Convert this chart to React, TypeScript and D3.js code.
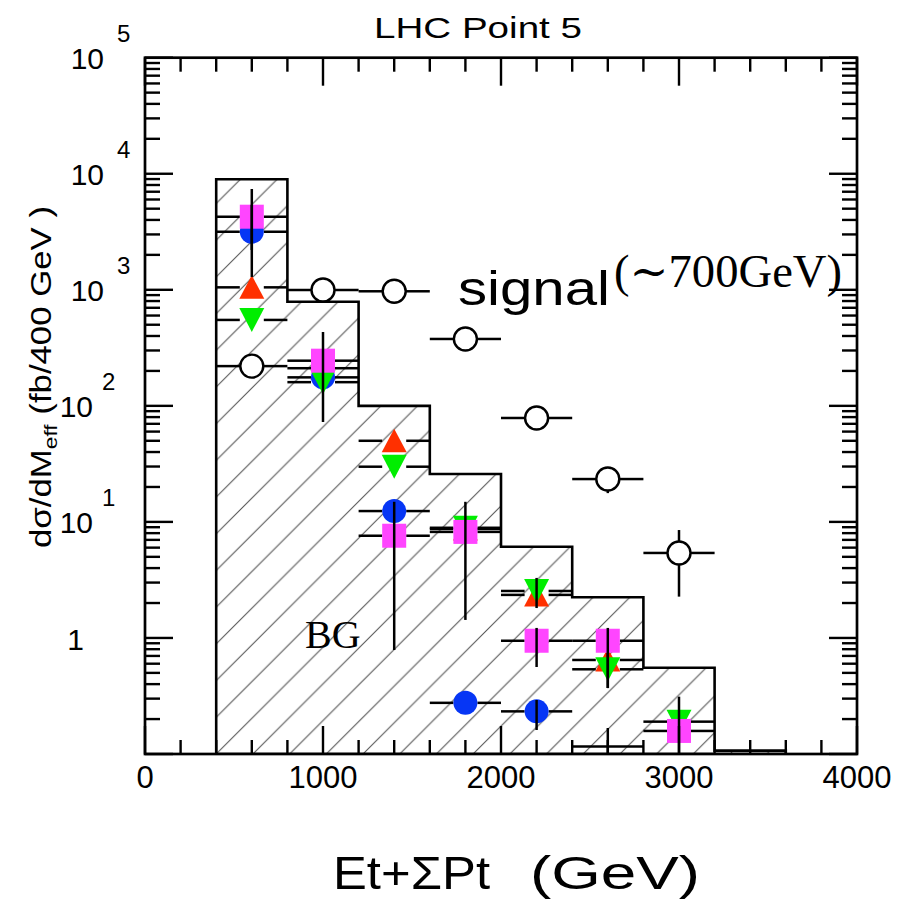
import React from 'react';
import * as d3 from 'd3';

// ---------- data ----------
const binEdges = [400, 800, 1200, 1600, 2000, 2400, 2800, 3200, 3600];
const bgValues = [8960, 789, 100, 25.9, 6.1, 2.24, 0.554, 0.107];

const binHalfWidth = 200;
const signalX = [600, 1000, 1400, 1800, 2200, 2600, 3000];
const signalValues = [220, 996, 971, 377, 78.6, 23.4, 5.4];
const signalHi = [null, null, null, null, null, 27.5, 8.51];
const signalLo = [null, null, null, null, null, 17.7, 2.27];

type Pt = { x: number; v: number; lo?: number; hi?: number };

const redPts: Pt[] = [
  { x: 600, v: 1050 },
  { x: 1000, v: 211 },
  { x: 1400, v: 50 },
  { x: 1800, v: 8.7 },
  { x: 2200, v: 2.35 },
  { x: 2600, v: 0.646, lo: 0.37, hi: 0.742 },
];
const bluePts: Pt[] = [
  { x: 600, v: 3170, lo: 1290, hi: 5380 },
  { x: 1000, v: 176 },
  { x: 1400, v: 12.4 },
  { x: 1800, v: 0.276 },
  { x: 2200, v: 0.233, lo: 0.161, hi: 0.292 },
];
const greenPts: Pt[] = [
  { x: 600, v: 550 },
  { x: 1000, v: 160 },
  { x: 1400, v: 29.9 },
  { x: 1800, v: 8.9 },
  { x: 2200, v: 2.54, lo: 1.81, hi: 3.29 },
  { x: 2600, v: 0.537, lo: 0.37, hi: 0.742 },
  { x: 3000, v: 0.19 },
];
const magentaPts: Pt[] = [
  { x: 600, v: 4265, lo: 2200, hi: 7390 },
  { x: 1000, v: 245, lo: 72.6, hi: 433 },
  { x: 1400, v: 7.6, lo: 0.787, hi: 14.9 },
  { x: 1800, v: 8.2, lo: 1.43, hi: 14.9 },
  { x: 2200, v: 0.946, lo: 0.562, hi: 1.22 },
  { x: 2600, v: 0.946, lo: 0.742, hi: 1.22 },
  { x: 3000, v: 0.158, lo: 0.05, hi: 0.312 },
];
// point whose marker is not drawn (only error bars visible)
const barOnlyPts: Pt[] = [{ x: 2600, v: 0.116, lo: 0.05, hi: 0.1675 }];

const xTickMajor = [0, 1000, 2000, 3000, 4000];
const xTickLabels = ['0', '1000', '2000', '3000', '4000'];
const yDecades = [-1, 0, 1, 2, 3, 4, 5];
const yTickLabels = [
  { exp: 5, base: '10', sup: '5' },
  { exp: 4, base: '10', sup: '4' },
  { exp: 3, base: '10', sup: '3' },
  { exp: 2, base: '10', sup: '2' },
  { exp: 1, base: '10', sup: '1' },
  { exp: 0, base: '1', sup: '' },
];

const COLORS = {
  red: '#ff3000',
  blue: '#0636f5',
  green: '#00ee00',
  magenta: '#ff45ff',
};

const SANS = 'Liberation Sans, Arial, Helvetica, sans-serif';
const SERIF = 'Liberation Serif, Times New Roman, DejaVu Serif, serif';

export default function App() {
  const L = 145, R = 857, T = 57.7, B = 754;
  const x = d3.scaleLinear().domain([0, 4000]).range([L, R]);
  const y = d3.scaleLog().domain([0.1, 1e5]).range([B, T]);
  const yc = (v: number) => Math.min(B, y(Math.max(v, 1e-3)));

  // histogram outline
  const histPts: [number, number][] = [[x(binEdges[0]), B]];
  bgValues.forEach((v, i) => {
    histPts.push([x(binEdges[i]), y(v)]);
    histPts.push([x(binEdges[i + 1]), y(v)]);
  });
  histPts.push([x(binEdges[binEdges.length - 1]), B]);
  const histPath = d3.line()(histPts) + 'Z';

  const hs = 36.7;
  const M = 12; // marker half size
  const sw = 2.5;

  const hBar = (cx: number, v: number, gap: number, key: string) => {
    const px = x(cx), py = y(v);
    return (
      <g key={key}>
        <line x1={x(cx - binHalfWidth)} x2={px - gap} y1={py} y2={py} stroke="#000" strokeWidth={sw} />
        <line x1={px + gap} x2={x(cx + binHalfWidth)} y1={py} y2={py} stroke="#000" strokeWidth={sw} />
      </g>
    );
  };
  const vBar = (cx: number, lo: number, hi: number, key: string) => (
    <line key={key} x1={x(cx)} x2={x(cx)} y1={yc(hi)} y2={yc(lo)} stroke="#000" strokeWidth={sw} />
  );

  const markers: JSX.Element[] = [];
  signalX.forEach((cx, i) => {
    markers.push(
      <circle key={'s' + i} cx={x(cx)} cy={y(signalValues[i])} r={11.5} fill="#fff" stroke="#000" strokeWidth={2.4} />
    );
  });
  redPts.forEach((p, i) => {
    const px = x(p.x), py = y(p.v);
    markers.push(
      <polygon key={'r' + i} points={`${px},${py - M} ${px - 12.5},${py + 11.5} ${px + 12.5},${py + 11.5}`} fill={COLORS.red} />
    );
  });
  bluePts.forEach((p, i) => {
    markers.push(<circle key={'b' + i} cx={x(p.x)} cy={y(p.v)} r={12} fill={COLORS.blue} />);
  });
  greenPts.forEach((p, i) => {
    const px = x(p.x), py = y(p.v);
    markers.push(
      <polygon key={'g' + i} points={`${px - 12.5},${py - M} ${px + 12.5},${py - M} ${px},${py + 12}`} fill={COLORS.green} />
    );
  });
  magentaPts.forEach((p, i) => {
    markers.push(<rect key={'m' + i} x={x(p.x) - M} y={y(p.v) - M} width={24} height={24} fill={COLORS.magenta} />);
  });

  const hBars: JSX.Element[] = [];
  const vBars: JSX.Element[] = [];
  signalX.forEach((cx, i) => {
    hBars.push(hBar(cx, signalValues[i], 11.5, 'hs' + i));
    const hi = signalHi[i], lo = signalLo[i];
    if (hi != null && lo != null) {
      const py = y(signalValues[i]);
      if (y(hi) < py - 11.5)
        vBars.push(<line key={'vs1' + i} x1={x(cx)} x2={x(cx)} y1={y(hi)} y2={py - 11.5} stroke="#000" strokeWidth={sw} />);
      vBars.push(<line key={'vs2' + i} x1={x(cx)} x2={x(cx)} y1={py + 11.5} y2={yc(lo)} stroke="#000" strokeWidth={sw} />);
    }
  });
  const series: [string, Pt[]][] = [['r', redPts], ['b', bluePts], ['g', greenPts], ['m', magentaPts]];
  series.forEach(([k, pts]) => {
    pts.forEach((p, i) => {
      hBars.push(hBar(p.x, p.v, M, 'h' + k + i));
      if (p.lo != null && p.hi != null) vBars.push(vBar(p.x, p.lo, p.hi, 'v' + k + i));
    });
  });
  barOnlyPts.forEach((p, i) => {
    hBars.push(hBar(p.x, p.v, 0, 'ho' + i));
    if (p.lo != null && p.hi != null) vBars.push(vBar(p.x, p.lo, p.hi, 'vo' + i));
  });

  // ticks
  const ticks: JSX.Element[] = [];
  for (let v = 0; v <= 4000; v += 200) {
    const major = v % 1000 === 0;
    const len = major ? 28 : 14;
    const px = x(v);
    ticks.push(<line key={'xb' + v} x1={px} x2={px} y1={B} y2={B - len} stroke="#000" strokeWidth={2.4} />);
    ticks.push(<line key={'xt' + v} x1={px} x2={px} y1={T} y2={T + len} stroke="#000" strokeWidth={2.4} />);
  }
  yDecades.forEach((d) => {
    const py = y(Math.pow(10, d));
    ticks.push(<line key={'yl' + d} x1={L} x2={L + 28} y1={py} y2={py} stroke="#000" strokeWidth={2.4} />);
    ticks.push(<line key={'yr' + d} x1={R} x2={R - 28} y1={py} y2={py} stroke="#000" strokeWidth={2.4} />);
    if (d < 5) {
      for (let m = 2; m <= 9; m++) {
        const pm = y(m * Math.pow(10, d));
        ticks.push(<line key={'ylm' + d + m} x1={L} x2={L + 15} y1={pm} y2={pm} stroke="#000" strokeWidth={2.4} />);
        ticks.push(<line key={'yrm' + d + m} x1={R} x2={R - 15} y1={pm} y2={pm} stroke="#000" strokeWidth={2.4} />);
      }
    }
  });

  return (
    <svg width={905} height={901} style={{ position: 'absolute', left: 0, top: 0, background: '#fff' }}>
      <defs>
        <pattern id="hatch" patternUnits="userSpaceOnUse" width={hs} height={hs}
          patternTransform={`translate(${x(binEdges[0])},${B})`}>
          <path d={`M0,${hs} L${hs},0 M${-hs / 4},${hs / 4} L${hs / 4},${-hs / 4} M${(3 * hs) / 4},${(5 * hs) / 4} L${(5 * hs) / 4},${(3 * hs) / 4}`}
            stroke="#555" strokeWidth={1.1} />
        </pattern>
        <clipPath id="plotclip">
          <rect x={L} y={T} width={R - L} height={B - T} />
        </clipPath>
      </defs>
      <rect x={0} y={0} width={905} height={901} fill="#fff" />

      <g clipPath="url(#plotclip)">
        <path d={histPath} fill="url(#hatch)" stroke="#000" strokeWidth={2.6} strokeLinejoin="miter" />
        {hBars}
        {markers}
        {vBars}
      </g>

      <rect x={L} y={T} width={R - L} height={B - T} fill="none" stroke="#000" strokeWidth={2.7} />
      {ticks}

      {/* x tick labels */}
      {xTickMajor.map((v, i) => (
        <text key={'xl' + v} x={x(v)} y={788} textAnchor="middle" fontFamily={SANS} fontSize={31} fill="#000">
          {xTickLabels[i]}
        </text>
      ))}

      {/* y tick labels */}
      {yTickLabels.map((t) => {
        const py = y(Math.pow(10, t.exp));
        if (t.sup === '') {
          return (
            <text key={'yl' + t.exp} x={84} y={py + 12} textAnchor="end" fontFamily={SANS} fontSize={30} fill="#000">
              {t.base}
            </text>
          );
        }
        const right = t.exp >= 3 ? 104 : 93;
        const supX = t.exp >= 3 ? 117 : 102;
        return (
          <g key={'yl' + t.exp}>
            <text x={right} y={py + 11} textAnchor="end" fontFamily={SANS} fontSize={30} fill="#000">{t.base}</text>
            <text x={supX} y={py - 16} fontFamily={SANS} fontSize={24} fill="#000">{t.sup}</text>
          </g>
        );
      })}

      {/* title */}
      <text x={478} y={38} textAnchor="middle" fontFamily={SANS} fontSize={29} fill="#000"
        textLength={208} lengthAdjust="spacingAndGlyphs">LHC Point 5</text>

      {/* y axis title */}
      <text transform="translate(51,377) rotate(-90)" textAnchor="middle" fontFamily={SANS} fontSize={29} fill="#000"
        textLength={342} lengthAdjust="spacingAndGlyphs">
        <tspan>dσ/dM</tspan>
        <tspan fontSize={19} dy={6}>eff</tspan>
        <tspan dy={-6}> (fb/400 GeV )</tspan>
      </text>

      {/* x axis title */}
      <text x={333} y={889} fontFamily={SANS} fontSize={46} fill="#000"
        textLength={157} lengthAdjust="spacingAndGlyphs">Et+ΣPt</text>
      <text x={530} y={889} fontFamily={SANS} fontSize={46} fill="#000"
        textLength={170} lengthAdjust="spacingAndGlyphs">(GeV)</text>

      {/* annotations */}
      <text x={458} y={305} fontFamily={SANS} fontSize={48} fill="#000"
        textLength={152} lengthAdjust="spacingAndGlyphs">signal</text>
      <text x={614} y={287} fontFamily={SERIF} fontSize={46} fill="#000"
        textLength={228} lengthAdjust="spacingAndGlyphs">(∼700GeV)</text>
      <text x={305} y={648} fontFamily={SERIF} fontSize={40} fill="#000">BG</text>
    </svg>
  );
}
